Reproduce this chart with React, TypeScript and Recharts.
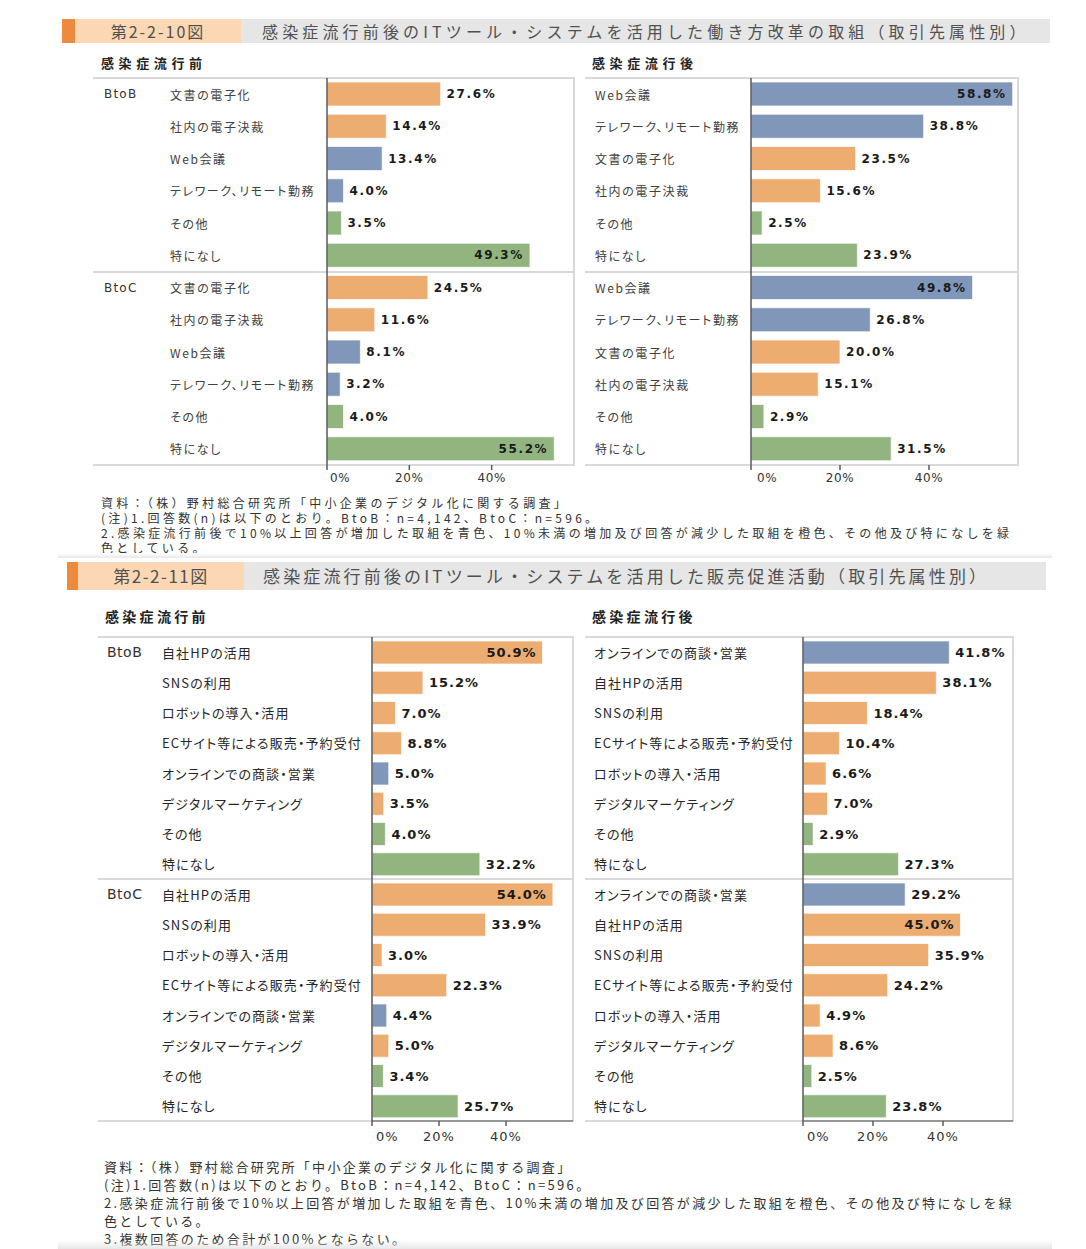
import React from 'react';
import { Bar, BarChart, Cell, LabelList, XAxis, YAxis } from 'recharts';

// 第2-2-10図 働き方改革の取組
const workBeforeLabels = ['文書の電子化', '社内の電子決裁', 'Web会議', 'テレワーク、リモート勤務', 'その他', '特になし'];
const workBeforeBtoB = [27.6, 14.4, 13.4, 4.0, 3.5, 49.3];
const workBeforeBtoC = [24.5, 11.6, 8.1, 3.2, 4.0, 55.2];
const workAfterLabels = ['Web会議', 'テレワーク、リモート勤務', '文書の電子化', '社内の電子決裁', 'その他', '特になし'];
const workAfterBtoB = [58.8, 38.8, 23.5, 15.6, 2.5, 23.9];
const workAfterBtoC = [49.8, 26.8, 20.0, 15.1, 2.9, 31.5];

// 第2-2-11図 販売促進活動
const salesBeforeLabels = ['自社HPの活用', 'SNSの利用', 'ロボットの導入・活用', 'ECサイト等による販売・予約受付', 'オンラインでの商談・営業', 'デジタルマーケティング', 'その他', '特になし'];
const salesBeforeBtoB = [50.9, 15.2, 7.0, 8.8, 5.0, 3.5, 4.0, 32.2];
const salesBeforeBtoC = [54.0, 33.9, 3.0, 22.3, 4.4, 5.0, 3.4, 25.7];
const salesAfterLabels = ['オンラインでの商談・営業', '自社HPの活用', 'SNSの利用', 'ECサイト等による販売・予約受付', 'ロボットの導入・活用', 'デジタルマーケティング', 'その他', '特になし'];
const salesAfterBtoB = [41.8, 38.1, 18.4, 10.4, 6.6, 7.0, 2.9, 27.3];
const salesAfterBtoC = [29.2, 45.0, 35.9, 24.2, 4.9, 8.6, 2.5, 23.8];

const xTicks = [0, 20, 40];

const notes1 = [
  '資料：（株）野村総合研究所「中小企業のデジタル化に関する調査」',
  '(注)1.回答数(n)は以下のとおり。BtoB：n=4,142、BtoC：n=596。',
  '2.感染症流行前後で10%以上回答が増加した取組を青色、10%未満の増加及び回答が減少した取組を橙色、その他及び特になしを緑',
  '色としている。',
];
const notes2 = [...notes1, '3.複数回答のため合計が100%とならない。'];

const BLUE = '#8097b9';
const ORANGE = '#edad70';
const GREEN = '#92b580';
const blueItems = ['Web会議', 'テレワーク、リモート勤務', 'オンラインでの商談・営業'];
const greenItems = ['その他', '特になし'];
const colorOf = (label: string) => (blueItems.includes(label) ? BLUE : greenItems.includes(label) ? GREEN : ORANGE);

const JP = '"Noto Sans CJK JP", "Noto Sans", sans-serif';
const LATIN = '"DejaVu Sans", Verdana, sans-serif';
const GRID = '#d9d9d9';

type Row = { key: string; group: string; label: string; value: number; first: boolean };

const buildRows = (labels: string[], btob: number[], btoc: number[]): Row[] => [
  ...labels.map((label, i) => ({ key: `BtoB-${i}`, group: 'BtoB', label, value: btob[i], first: i === 0 })),
  ...labels.map((label, i) => ({ key: `BtoC-${i}`, group: 'BtoC', label, value: btoc[i], first: i === 0 })),
];

type PanelProps = {
  rows: Row[];
  left: number;
  top: number;
  yAxisWidth: number;
  plotWidth: number;
  plotHeight: number;
  barSize: number;
  labelX: number;
  groupX?: number;
  catFont: number;
  catSpacing: number;
  catColor: string;
  groupFont: number;
  groupSpacing: number;
  valueFont: number;
  valueSpacing: number;
  tickFont: number;
  tickSpacing: number;
  tickMargin: number;
  zeroOffset: number;
  xAxisLine: string | null;
};

function Panel(p: PanelProps) {
  const xAxisHeight = 32;
  const width = p.yAxisWidth + p.plotWidth + 1;
  const lineW = p.yAxisWidth + p.plotWidth + 1;
  const hLine = (y: number) => (
    <div style={{ position: 'absolute', left: p.left, top: y - 1, width: lineW, height: 2, background: GRID }} />
  );

  const CategoryTick = (t: any) => {
    const row = p.rows.find((r) => r.key === t.payload.value);
    if (!row) return null;
    return (
      <g>
        {p.groupX !== undefined && row.first && (
          <text x={p.groupX} y={t.y} dominantBaseline="central" fill="#333"
            style={{ fontFamily: LATIN, fontSize: p.groupFont, letterSpacing: p.groupSpacing }}>
            {row.group}
          </text>
        )}
        <text x={p.labelX} y={t.y} dominantBaseline="central" fill={p.catColor}
          style={{ fontFamily: JP, fontSize: p.catFont, letterSpacing: p.catSpacing, fontFeatureSettings: '"palt"' }}>
          {row.label}
        </text>
      </g>
    );
  };

  const ValueTick = (t: any) => {
    const zero = t.payload.value === 0;
    return (
      <text x={zero ? t.x + p.zeroOffset : t.x} y={t.y} dy="0.75em" textAnchor={zero ? 'start' : 'middle'} fill="#333"
        style={{ fontFamily: LATIN, fontSize: p.tickFont, letterSpacing: p.tickSpacing }}>
        {t.payload.value}%
      </text>
    );
  };

  const renderValue = (l: any) => {
    const x = Number(l.x), y = Number(l.y), w = Number(l.width), h = Number(l.height);
    const v = Number(l.value);
    const inside = v >= 44;
    return (
      <text x={inside ? x + w - 6 : x + w + 6} y={y + h / 2} dominantBaseline="central"
        textAnchor={inside ? 'end' : 'start'} fill="#1a1a1a"
        style={{ fontFamily: LATIN, fontSize: p.valueFont, fontWeight: 700, letterSpacing: p.valueSpacing }}>
        {v.toFixed(1)}%
      </text>
    );
  };

  return (
    <>
      {hLine(p.top)}
      {hLine(p.top + p.plotHeight / 2)}
      {hLine(p.top + p.plotHeight)}
      <div style={{ position: 'absolute', left: p.left + p.yAxisWidth + p.plotWidth - 1, top: p.top, width: 2, height: p.plotHeight, background: GRID }} />
      <div style={{ position: 'absolute', left: p.left, top: p.top }}>
        <BarChart width={width} height={p.plotHeight + xAxisHeight} data={p.rows} layout="vertical"
          margin={{ top: 0, right: 1, bottom: 0, left: 0 }}>
          <XAxis type="number" domain={[0, 60]} ticks={xTicks} height={xAxisHeight}
            axisLine={p.xAxisLine ? { stroke: p.xAxisLine, strokeWidth: 1.5 } : false}
            tickLine={{ stroke: '#595959', strokeWidth: 1.5 }} tickSize={5} tickMargin={p.tickMargin}
            tick={ValueTick} />
          <YAxis type="category" dataKey="key" width={p.yAxisWidth} interval={0}
            axisLine={{ stroke: '#595959', strokeWidth: 1.5 }} tickLine={false} tick={CategoryTick} />
          <Bar dataKey="value" barSize={p.barSize} stroke="#ffffff" strokeOpacity={0.7} strokeWidth={1} isAnimationActive={false}>
            {p.rows.map((r) => (
              <Cell key={r.key} fill={colorOf(r.label)} />
            ))}
            <LabelList dataKey="value" content={renderValue} />
          </Bar>
        </BarChart>
      </div>
    </>
  );
}

type HeaderProps = {
  top: number; height: number; accentLeft: number; peachLeft: number; grayLeft: number; right: number;
  number: string; title: string; font: number; numSpacing: number; titleSpacing: number; titleLeft: number;
};

function Header(h: HeaderProps) {
  const text = { fontFamily: JP, fontSize: h.font, color: '#505050', lineHeight: `${h.height}px`, whiteSpace: 'nowrap' as const };
  return (
    <>
      <div style={{ position: 'absolute', left: h.accentLeft, top: h.top, width: h.peachLeft - h.accentLeft, height: h.height, background: '#ed8a3b' }} />
      <div style={{ position: 'absolute', left: h.peachLeft, top: h.top, width: h.grayLeft - h.peachLeft, height: h.height, background: '#fbd7b4',
        ...text, textAlign: 'center', letterSpacing: h.numSpacing }}>
        {h.number}
      </div>
      <div style={{ position: 'absolute', left: h.grayLeft, top: h.top, width: h.right - h.grayLeft, height: h.height, background: '#e6e6e6' }} />
      <div style={{ position: 'absolute', left: h.titleLeft, top: h.top, ...text, letterSpacing: h.titleSpacing }}>{h.title}</div>
    </>
  );
}

function Notes({ lines, left, top, font, spacing, lineHeight }: { lines: string[]; left: number; top: number; font: number; spacing: number; lineHeight: number }) {
  return (
    <div style={{ position: 'absolute', left, top, fontFamily: JP, fontSize: font, letterSpacing: spacing, lineHeight: `${lineHeight}px`, color: '#333', whiteSpace: 'nowrap' }}>
      {lines.map((l) => (
        <div key={l}>{l}</div>
      ))}
    </div>
  );
}

function Sub({ text, left, top, font, spacing }: { text: string; left: number; top: number; font: number; spacing: number }) {
  return (
    <div style={{ position: 'absolute', left, top, fontFamily: JP, fontSize: font, fontWeight: 700, letterSpacing: spacing, color: '#222', lineHeight: '16px' }}>
      {text}
    </div>
  );
}

export default function App() {
  const workBefore = buildRows(workBeforeLabels, workBeforeBtoB, workBeforeBtoC);
  const workAfter = buildRows(workAfterLabels, workAfterBtoB, workAfterBtoC);
  const salesBefore = buildRows(salesBeforeLabels, salesBeforeBtoB, salesBeforeBtoC);
  const salesAfter = buildRows(salesAfterLabels, salesAfterBtoB, salesAfterBtoC);

  const fig1 = {
    plotHeight: 387, barSize: 24, catFont: 12, catSpacing: 1.6, catColor: '#404040', groupFont: 12, groupSpacing: 1.2,
    valueFont: 12, valueSpacing: 1.6, tickFont: 12, tickSpacing: 0.6, tickMargin: 3, xAxisLine: null,
  };
  const fig2 = {
    plotHeight: 484, barSize: 23, catFont: 13, catSpacing: 1.1, catColor: '#262626', groupFont: 14, groupSpacing: 0.5,
    valueFont: 13, valueSpacing: 1, tickFont: 13, tickSpacing: 1, tickMargin: 5, xAxisLine: '#7f7f7f',
  };

  return (
    <div style={{ position: 'absolute', left: 0, top: 0, width: 1086, height: 1249, overflow: 'hidden', background: '#fff' }}>
      <Header top={19} height={24} accentLeft={62} peachLeft={75} grayLeft={241} right={1050} number="第2-2-10図"
        title="感染症流行前後のITツール・システムを活用した働き方改革の取組（取引先属性別）" font={16} numSpacing={2} titleSpacing={4.15} titleLeft={262} />
      <Sub text="感染症流行前" left={101} top={55} font={13} spacing={4.6} />
      <Sub text="感染症流行後" left={592} top={55} font={13} spacing={4.6} />
      <Panel rows={workBefore} left={93} top={78} yAxisWidth={234} plotWidth={247} labelX={77} groupX={11} zeroOffset={3} {...fig1} />
      <Panel rows={workAfter} left={585} top={78} yAxisWidth={166} plotWidth={267} labelX={10} zeroOffset={6} {...fig1} />
      <Notes lines={notes1} left={101} top={495} font={12} spacing={3.3} lineHeight={15} />
      <div style={{ position: 'absolute', left: 58, top: 553, width: 994, height: 5, background: 'linear-gradient(#ffffff, #e9e9e9)' }} />

      <Header top={562} height={28} accentLeft={67} peachLeft={78} grayLeft={244} right={1046} number="第2-2-11図"
        title="感染症流行前後のITツール・システムを活用した販売促進活動（取引先属性別）" font={17} numSpacing={1.5} titleSpacing={3.15} titleLeft={263} />
      <Sub text="感染症流行前" left={105} top={608} font={14} spacing={3.3} />
      <Sub text="感染症流行後" left={592} top={608} font={14} spacing={3.3} />
      <Panel rows={salesBefore} left={98} top={637} yAxisWidth={274} plotWidth={201} labelX={64} groupX={9} zeroOffset={4} {...fig2} />
      <Panel rows={salesAfter} left={585} top={637} yAxisWidth={218} plotWidth={210} labelX={9} zeroOffset={4} {...fig2} />
      <Notes lines={notes2} left={104} top={1158} font={13} spacing={2.33} lineHeight={18} />
      <div style={{ position: 'absolute', left: 58, top: 1240, width: 994, height: 9, background: 'linear-gradient(rgba(255,255,255,0), rgba(225,225,225,0.8))' }} />
    </div>
  );
}
